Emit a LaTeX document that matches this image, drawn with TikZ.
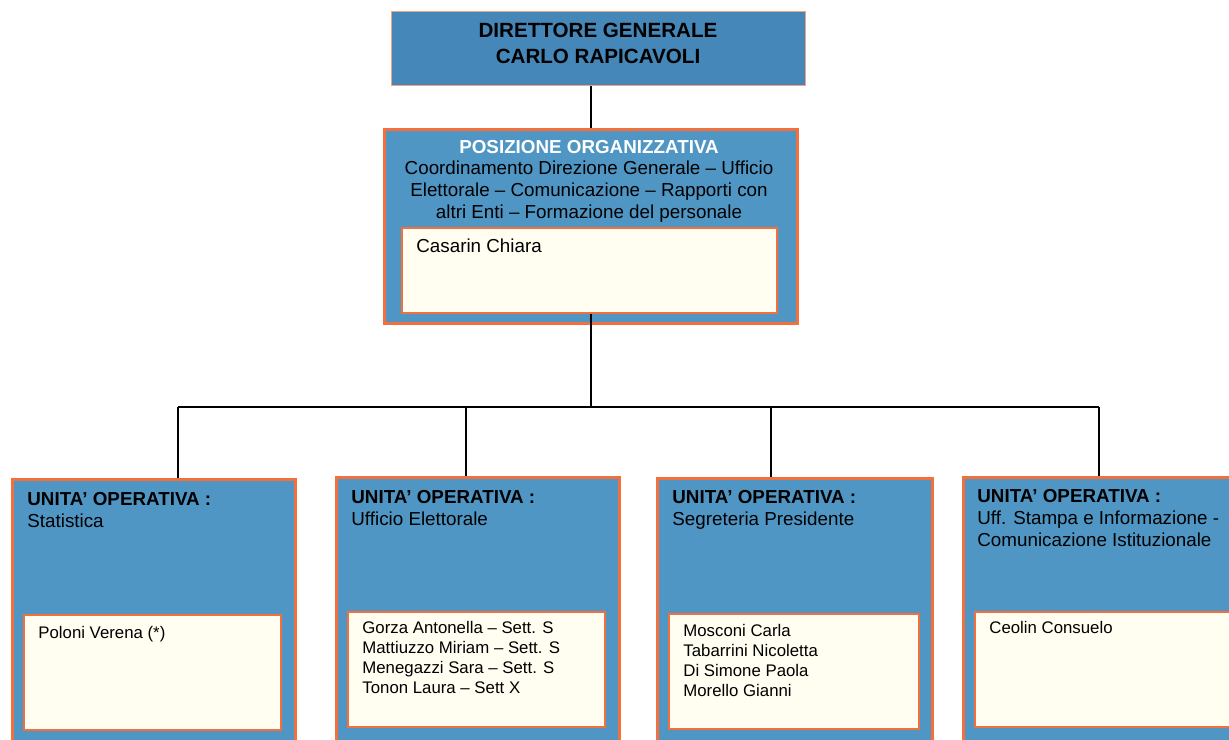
\documentclass[tikz,border=0pt]{standalone}
\usepackage{fontspec}
\setmainfont{Liberation Sans}
\usetikzlibrary{positioning}
\definecolor{dgblue}{HTML}{4587B8}
\definecolor{boxblue}{HTML}{5096C4}
\definecolor{boxorange}{HTML}{F36F3B}
\definecolor{dgorange}{HTML}{F5A27F}
\definecolor{namecream}{HTML}{FFFEF1}
\newcommand{\dgfont}{\fontsize{10.3}{13}\selectfont\bfseries}
\newcommand{\pofont}{\fontsize{9.4}{10.8}\selectfont}
\newcommand{\unitfont}{\fontsize{9.4}{11}\selectfont}
\newcommand{\namefont}{\fontsize{8.4}{10}\selectfont}
\tikzset{
  dgbox/.style={rectangle, draw=dgorange, line width=0.6pt, fill=dgblue, anchor=north west, inner sep=0pt},
  unitbox/.style={rectangle, draw=boxorange, line width=1.5pt, fill=boxblue, anchor=north west, inner sep=0pt},
  namebox/.style={rectangle, draw=boxorange, line width=1pt, fill=namecream, anchor=north west, inner sep=0pt},
  unittext/.style={font=\unitfont, align=left, anchor=base west, inner sep=0pt},
  nametext/.style={font=\namefont, align=left, anchor=base west, inner sep=0pt},
  link/.style={line width=0.6pt, black}
}

\begin{document}
\begin{tikzpicture}[x=0.5pt, y=-0.5pt]
    \useasboundingbox (0,0) rectangle (1229,739);

    % direttore generale
    \node[dgbox, minimum width=207pt, minimum height=37pt] (dg) at (391,11) {};
    \node[font=\dgfont, align=center, anchor=base, inner sep=0pt] (dgtext) at (598,63) {DIRETTORE GENERALE\\CARLO RAPICAVOLI};

    % posizione organizzativa
    \node[unitbox, minimum width=206.5pt, minimum height=97pt] (po) at (383,128) {};
    \node[font=\pofont, align=center, anchor=base, inner sep=0pt] (potext) at (589,218)
        {\textcolor{white}{\bfseries POSIZIONE ORGANIZZATIVA}\\Coordinamento Direzione Generale – Ufficio\\Elettorale – Comunicazione – Rapporti con\\altri Enti – Formazione del personale};
    \node[namebox, minimum width=187.5pt, minimum height=42.5pt] (poin) at (401,227) {};
    \node[font=\pofont, anchor=base west, inner sep=0pt] (cas) at ([shift={(15,25)}]poin.north west) {Casarin Chiara};

    % unita' operative
    \node[unitbox, minimum width=141.5pt, minimum height=150pt] (u1) at (11,478) {};
    \node[unitbox, minimum width=141.5pt, minimum height=150pt] (u2) at (335,476) {};
    \node[unitbox, minimum width=137.5pt, minimum height=150pt] (u3) at (656,477) {};
    \node[unitbox, minimum width=150pt, minimum height=150pt] (u4) at (962,476) {};

    \node[namebox, minimum width=128.5pt, minimum height=57.5pt] (u1in) at (23,614) {};
    \node[namebox, minimum width=128.5pt, minimum height=57.5pt] (u2in) at (347,611) {};
    \node[namebox, minimum width=125pt, minimum height=57.5pt] (u3in) at (668,613) {};
    \node[namebox, minimum width=140pt, minimum height=57.5pt] (u4in) at (974,611) {};

    % base = last line
    \node[unittext] (u1title) at ([shift={(16,49)}]u1.north west) {\textbf{UNITA’ OPERATIVA :}\\Statistica};
    \node[unittext] (u2title) at ([shift={(16,49)}]u2.north west) {\textbf{UNITA’ OPERATIVA :}\\Ufficio Elettorale};
    \node[unittext] (u3title) at ([shift={(16,48)}]u3.north west) {\textbf{UNITA’ OPERATIVA :}\\Segreteria Presidente};
    \node[unittext] (u4title) at ([shift={(15,70)}]u4.north west) {\textbf{UNITA’ OPERATIVA :}\\Uff. Stampa e Informazione -\\Comunicazione Istituzionale};

    \node[nametext] (u1names) at ([shift={(15,24)}]u1in.north west) {Poloni Verena (*)};
    \node[nametext] (u2names) at ([shift={(15,82)}]u2in.north west)
        {Gorza Antonella – Sett. S\\Mattiuzzo Miriam – Sett. S\\Menegazzi Sara – Sett. S\\Tonon Laura – Sett X};
    \node[nametext] (u3names) at ([shift={(15,83)}]u3in.north west)
        {Mosconi Carla\\Tabarrini Nicoletta\\Di Simone Paola\\Morello Gianni};
    \node[nametext] (u4names) at ([shift={(15,22)}]u4in.north west) {Ceolin Consuelo};

    % collegamenti
    \coordinate (stem) at (591,0);
    \coordinate (bus) at (591,407);
    \coordinate (drop1) at (178,407);
    \coordinate (drop2) at (466,407);
    \coordinate (drop3) at (771,407);
    \coordinate (drop4) at (1099,407);

    \draw[link] (dg.south -| stem) -- (po.north -| stem);
    \draw[link] (poin.south -| stem) -- (bus);
    \draw[link] (drop1) -- (drop4);
    \draw[link] (drop1) -- (drop1 |- u1.north);
    \draw[link] (drop2) -- (drop2 |- u2.north);
    \draw[link] (drop3) -- (drop3 |- u3.north);
    \draw[link] (drop4) -- (drop4 |- u4.north);
\end{tikzpicture}
\end{document}
